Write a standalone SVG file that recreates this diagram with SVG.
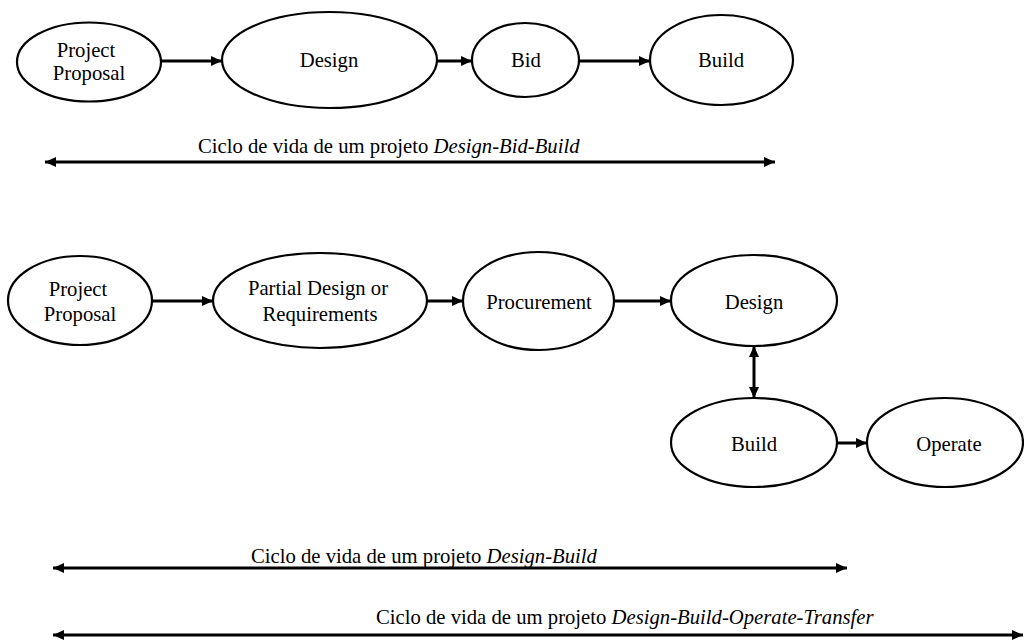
<svg xmlns="http://www.w3.org/2000/svg" width="1024" height="640" viewBox="0 0 1024 640">
<style>
  .node ellipse { fill: #ffffff; stroke: #000000; stroke-width: 2.2; }
  text { font-family: "Liberation Serif", "Times New Roman", serif; font-size: 20.7px; fill: #000000; }
  .node text { text-anchor: middle; }
  .conn line { stroke: #000000; stroke-width: 3; fill: none; }
  .it { font-style: italic; }
</style>
<defs>
  <marker id="arr" viewBox="0 0 11 10" refX="11" refY="5" markerWidth="11" markerHeight="10" markerUnits="userSpaceOnUse" orient="auto-start-reverse">
    <path d="M0,0 L11,5 L0,10 z" fill="#000000"/>
  </marker>
</defs>
<rect width="1024" height="640" fill="#ffffff"/>

<!-- Top row: Design-Bid-Build -->
<g id="n-proposal1" class="node">
  <ellipse cx="89" cy="62" rx="72" ry="39.5"/>
  <text x="86" y="57">Project</text>
  <text x="89" y="80">Proposal</text>
</g>
<g id="n-design1" class="node">
  <ellipse cx="329.5" cy="60" rx="107.5" ry="48"/>
  <text x="329" y="67">Design</text>
</g>
<g id="n-bid1" class="node">
  <ellipse cx="525.5" cy="60" rx="53.5" ry="37"/>
  <text x="526" y="67">Bid</text>
</g>
<g id="n-build1" class="node">
  <ellipse cx="721.5" cy="60" rx="71.5" ry="45"/>
  <text x="721" y="67">Build</text>
</g>

<!-- Bottom: Design-Build / DBOT -->
<g id="n-proposal2" class="node">
  <ellipse cx="80" cy="300.5" rx="72" ry="44.5"/>
  <text x="78" y="296">Project</text>
  <text x="80" y="321">Proposal</text>
</g>
<g id="n-partial" class="node">
  <ellipse cx="320" cy="300.5" rx="107" ry="47.5"/>
  <text x="318" y="295">Partial Design or</text>
  <text x="320" y="321">Requirements</text>
</g>
<g id="n-procurement" class="node">
  <ellipse cx="538.5" cy="301" rx="75.5" ry="49"/>
  <text x="539" y="309">Procurement</text>
</g>
<g id="n-design2" class="node">
  <ellipse cx="754" cy="300.5" rx="83" ry="45.5"/>
  <text x="754" y="309">Design</text>
</g>
<g id="n-build2" class="node">
  <ellipse cx="754" cy="442.5" rx="83" ry="44.5"/>
  <text x="754" y="451">Build</text>
</g>
<g id="n-operate" class="node">
  <ellipse cx="945" cy="442.5" rx="78" ry="44.5"/>
  <text x="949" y="451">Operate</text>
</g>

<!-- Connectors -->
<g id="connectors" class="conn">
  <line x1="161" y1="61" x2="222" y2="61" marker-end="url(#arr)"/>
  <line x1="437" y1="61" x2="472" y2="61" marker-end="url(#arr)"/>
  <line x1="579" y1="61" x2="650" y2="61" marker-end="url(#arr)"/>
  <line x1="45" y1="162" x2="775" y2="162" marker-start="url(#arr)" marker-end="url(#arr)"/>

  <line x1="152" y1="301" x2="213" y2="301" marker-end="url(#arr)"/>
  <line x1="427" y1="301" x2="463" y2="301" marker-end="url(#arr)"/>
  <line x1="614" y1="301" x2="671" y2="301" marker-end="url(#arr)"/>
  <line x1="754" y1="346" x2="754" y2="398" marker-start="url(#arr)" marker-end="url(#arr)"/>
  <line x1="837" y1="443" x2="867" y2="443" marker-end="url(#arr)"/>

  <line x1="53" y1="568" x2="847" y2="568" marker-start="url(#arr)" marker-end="url(#arr)"/>
  <line x1="53" y1="635" x2="1023" y2="635" marker-start="url(#arr)" marker-end="url(#arr)"/>
</g>

<!-- Lifecycle labels -->
<g id="labels">
  <text x="198" y="153">Ciclo de vida de um projeto <tspan class="it">Design-Bid-Build</tspan></text>
  <text x="251" y="563">Ciclo de vida de um projeto <tspan class="it">Design-Build</tspan></text>
  <text x="376" y="624">Ciclo de vida de um projeto <tspan class="it">Design-Build-Operate-Transfer</tspan></text>
</g>
</svg>
